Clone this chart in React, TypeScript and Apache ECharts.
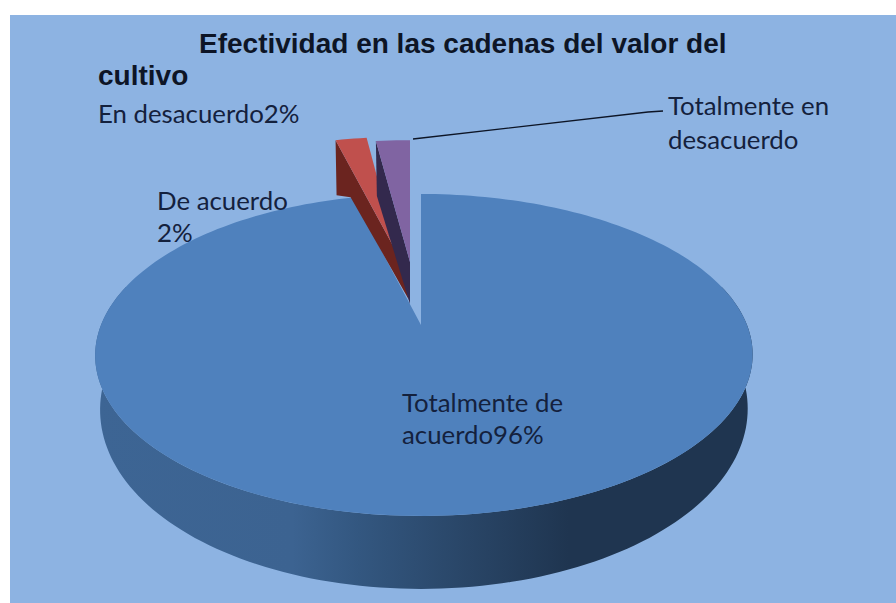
import React, { useEffect, useRef } from "react";
import * as echarts from "echarts";

const categories = ["Totalmente de acuerdo", "De acuerdo", "En desacuerdo", "Totalmente en desacuerdo"];
const shownSlices = ["Totalmente de acuerdo", "De acuerdo", "Totalmente en desacuerdo"];
const sliceValues = [96, 2, 2];
const titleLines = ["Efectividad en las cadenas del valor del", "cultivo"];
const sliceColors = ["#4f81bd", "#c0504d", "#8064a2"];
const sideColors = ["#1f3550", "#6b241f", "#33294d"];

const apexX = 421, apexY = 325, radX = 323, radY = 155.4, tilt = 0.186;

function project(deg: number, ox = 0, oy = 0, sx = 1, sy = 1, down = 0): number[] {
  const t = (deg * Math.PI) / 180;
  const w = 1 + tilt * Math.cos(t);
  const s = Math.sin(t);
  return [
    apexX + ox + (radX * sx * s) / w + 3 * s * s,
    apexY + oy - (radY * sy * Math.cos(t)) / w + down,
  ];
}

function arcPoints(a: number, b: number, f: (d: number) => number[]) {
  const n = Math.max(2, Math.ceil(Math.abs(b - a) / 1.5));
  const pts: number[][] = [];
  for (let i = 0; i <= n; i++) pts.push(f(a + ((b - a) * i) / n));
  return pts;
}

const explode = [
  { ox: 0, oy: 0, sx: 1, sy: 1 },
  { ox: -23, oy: -70, sx: 0.92, sy: 0.9 },
  { ox: -11, oy: -63, sx: 1, sy: 0.93 },
];

function renderSlice(params: any, api: any) {
  const i = params.dataIndex;
  const total = sliceValues.reduce((a, b) => a + b, 0);
  const before = sliceValues.slice(0, i).reduce((a, b) => a + b, 0);
  const a0 = (before / total) * 360;
  const a1 = ((before + api.value(0)) / total) * 360;
  const e = explode[i];
  const top = (d: number) => project(d, e.ox, e.oy, e.sx, e.sy);
  const apex = [apexX + e.ox, apexY + e.oy];
  const topPts = [apex, ...arcPoints(a0, a1, top)];
  if (i === 0) {
    const low = (d: number) => {
      const c = Math.cos((d * Math.PI) / 180);
      return project(d, 0, 0, 0.985, 1, 50 - 23 * c);
    };
    const upper = arcPoints(75, 285, top);
    const lower = arcPoints(285, 75, low);
    return {
      type: "group",
      z2: 30,
      children: [
        {
          type: "polygon",
          shape: { points: [...upper, ...lower] },
          style: {
            fill: new echarts.graphic.LinearGradient(0, 0, 1, 0, [
              { offset: 0, color: "#3d6594" },
              { offset: 0.3, color: "#3c6391" },
              { offset: 0.4, color: "#335780" },
              { offset: 0.55, color: "#2a4769" },
              { offset: 0.72, color: "#1f3550" },
              { offset: 1, color: "#1f3550" },
            ]),
          },
        },
        { type: "polygon", shape: { points: topPts }, style: { fill: sliceColors[i] } },
      ],
    };
  }
  const p = top(a0);
  const dOuter = 55;
  const dApex = 42;
  const side =
    i === 1
      ? [p, apex, [apex[0] + 11, apex[1] + dApex + 3], [p[0] + 55, p[1] + 127], [p[0] + 15, p[1] + 57], [p[0] + 1, p[1] + dOuter]]
      : [p, apex, [apex[0], apex[1] + dApex], [p[0] + 1, p[1] + dOuter]];
  return {
    type: "group",
    z2: i === 1 ? 20 : 10,
    children: [
      { type: "polygon", shape: { points: side }, style: { fill: sideColors[i] } },
      { type: "polygon", shape: { points: topPts }, style: { fill: sliceColors[i] } },
    ],
  };
}

const labelFont = { fontFamily: "Lato", fontSize: 25.8, fill: "#14213d", verticalAlign: "middle" };
const titleFont = { fontFamily: "Liberation Sans", fontWeight: "bold", fontSize: 28, fill: "#0d1526", verticalAlign: "middle" };

export default function App() {
  const ref = useRef<HTMLDivElement>(null);
  useEffect(() => {
    const chart = echarts.init(ref.current!, undefined, { renderer: "svg" });
    chart.setOption({
      animation: false,
      backgroundColor: "#ffffff",
      graphic: [
        { type: "rect", z: 0, shape: { x: 10, y: 15, width: 886, height: 588 }, style: { fill: "#8db3e2" } },
        { type: "text", z: 10, x: 199, y: 43, style: { ...titleFont, text: titleLines[0] } },
        { type: "text", z: 10, x: 98, y: 75, style: { ...titleFont, text: titleLines[1] } },
        { type: "text", z: 10, x: 98, y: 113, style: { ...labelFont, text: `${categories[2]}${sliceValues[2]}%` } },
        { type: "text", z: 10, x: 157, y: 216, style: { ...labelFont, lineHeight: 32, text: `${shownSlices[1]}\n${sliceValues[1]}%` } },
        { type: "text", z: 10, x: 402, y: 418, style: { ...labelFont, lineHeight: 32, text: `Totalmente de\nacuerdo${sliceValues[0]}%` } },
        { type: "text", z: 10, x: 668, y: 122, style: { ...labelFont, lineHeight: 34, text: "Totalmente en\ndesacuerdo" } },
        { type: "polyline", z: 10, shape: { points: [[413, 139], [648, 112], [663, 111]] }, style: { stroke: "#0d1526", fill: "none", lineWidth: 1.3 } },
      ],
      series: [
        {
          type: "custom",
          coordinateSystem: "none",
          z: 5,
          renderItem: renderSlice,
          data: shownSlices.map((n, i) => ({ name: n, value: [sliceValues[i]] })),
        },
      ],
    });
    return () => chart.dispose();
  }, []);
  return <div ref={ref} style={{ width: 896, height: 603, position: "absolute", left: 0, top: 0 }} />;
}
